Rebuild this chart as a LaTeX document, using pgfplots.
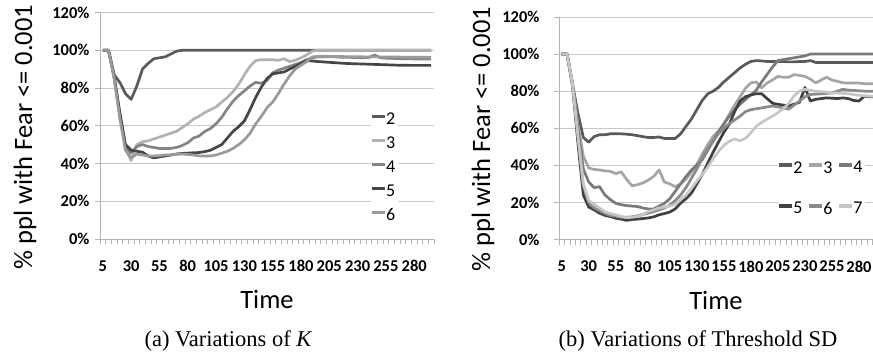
\documentclass[border=0pt]{standalone}
\usepackage{pgfplots}
\pgfplotsset{compat=1.18}
\usepackage{pgfplotstable}
\usepackage{fontspec}
\setmainfont{Carlito}
\newfontfamily\capfont{Liberation Serif}

\definecolor{axisgray}{HTML}{B4B4B4}
\definecolor{gridgray}{HTML}{C8C8C8}
\definecolor{la}{HTML}{5A5A5A}
\definecolor{lb}{HTML}{B2B2B2}
\definecolor{lc}{HTML}{848484}
\definecolor{ld}{HTML}{464646}
\definecolor{le}{HTML}{9A9A9A}
\definecolor{ra}{HTML}{595959}
\definecolor{rb}{HTML}{A5A5A5}
\definecolor{rc}{HTML}{7A7A7A}
\definecolor{rd}{HTML}{404040}
\definecolor{re}{HTML}{8A8A8A}
\definecolor{rf}{HTML}{C6C6C6}

\pgfplotstableread{
t    s2    s3    s4    s5    s6
5    100   100   100   100   100
10   100   100   100   100   100
15   87    86    86    86    85
20   83    65    66    67    64
25   77    48    49    50    47
30   74    41.5  45.5  47    43
35   81    50    49    46.5  45
40   90    51.5  50    46    44.5
45   93    52    49    44    44
50   95.5  53    48.5  43    44
55   96    54    48    43.5  44.2
60   96.5  55    48    44    44.5
65   98    56    48    44.5  44.5
70   99.5  57    48.5  45    45
75   100   59    49.5  45.3  45
80   100   61    51    45.5  44.8
85   100   63.5  53.5  45.7  44.5
90   100   65    54.5  45.8  44
95   100   67    57    46.3  44
100  100   68.5  58.5  47    44
105  100   70    61    48.5  44.5
110  100   72.5  64.5  50    45.5
115  100   75    69    53.5  46.5
120  100   78    73    57    48
125  100   82    76    59.5  50
130  100   87    78.5  62.5  52.5
135  100   91.5  81    68.5  56
140  100   94.5  83    75    61
145  100   95    82.5  80.5  65
150  100   95    84    85    69.5
155  100   95    88    87.5  72.5
160  100   94.7  89.5  88    77
165  100   95.5  90.5  88.5  82
170  100   94    91.5  90    86.5
175  100   94.7  92.5  91.5  90
180  100   96    93.5  93    92
185  100   97.5  95    94.5  94
190  100   99.5  96    94.3  96.5
195  100   100   96.5  94    96.8
200  100   100   96.5  93.8  96.8
205  100   100   96.5  93.6  96.7
210  100   100   96.5  93.4  96.7
215  100   100   96.3  93.2  96.7
220  100   100   96.3  93    96.6
225  100   100   96.2  92.9  96.6
230  100   100   96.2  92.8  96.6
235  100   100   96    92.7  96.5
240  100   100   96.2  92.6  96.5
245  100   100   97.5  92.5  96.5
250  100   100   96    92.4  96.5
255  100   100   95.8  92.3  96.4
260  100   100   95.7  92.2  96.4
265  100   100   95.6  92.1  96.4
270  100   100   95.5  92.1  96.3
275  100   100   95.5  92    96.3
280  100   100   95.4  92    96.3
285  100   100   95.4  92    96.3
290  100   100   95.3  92    96.3
295  100   100   95.3  92    96.3
}\leftdata

\pgfplotstableread{
t    s2    s3    s4    s5    s6    s7
5    100   100   100   100   100   100
10   100   100   100   100   100   100
15   84    84    84    83    83    84
20   68    62    60    52    55    56
25   55    45    38    24    29    30
30   52.5  38.5  31    17.5  20    21
35   55.5  37.8  28    16    17    19
40   56.5  37.5  28.5  14.2  15.5  17
45   56.5  37    24    13    14    15
50   57    36.8  21.5  12.4  13    14
55   57    35.5  19.5  11.5  12.5  13.3
60   57    36.5  18.8  11    12    12.5
65   56.8  32.5  18.3  10.3  12    11.8
70   56.5  29    18    10.8  12.2  12
75   56    29.5  17.8  11    12.8  12.4
80   55.5  30.5  17    11.3  13.5  13.5
85   55    32    16.5  11.6  14.2  15
90   55    34    16.5  12.2  15    16
95   55.3  37.5  18    13.3  16    17
100  54.5  31    19.5  14    17    17.5
105  54.5  30    22    14.8  18.5  18
110  54.5  28.5  26    16.5  21    19
115  57    30    30    19.6  24    21.5
120  61    32.5  34    22    28    24
125  65    36.5  37.5  25    33    27.5
130  70    40.5  40    30    38    31.5
135  75    46    43    35    44    35
140  78.5  51    48    41    49    39
145  80    55.5  53    47    53    43.5
150  82    58.5  58    52.5  57    47.5
155  85    62    62.5  57.8  60    50.7
160  87.5  67.5  66.5  62.2  62.5  53
165  90    72.5  70    69    64.5  54.2
170  92.5  77    73    74.7  66.5  53.3
175  94.5  81.5  75.5  77    69    54.5
180  96    84.5  78    78    70    57.5
185  96.5  85    80.5  78.6  70.5  61
190  96.3  81.8  85    78.6  71    63.2
195  96    84.4  89    76    71.5  64.9
200  96    86    93    73.5  72    66.5
205  96    88    96.5  72.9  71.5  68.4
210  96    87.5  97    72.5  71    70.5
215  95.8  87.5  97.5  72    70.3  73.5
220  95.8  88.9  98    73    72.5  77.5
225  96    88.5  98.5  74    74.7  80
230  96    88    99    82    77    81
235  96.5  86.5  100   74.7  78.2  80.5
240  95.5  84.4  100   75.6  78.4  80
245  95.5  86    100   76    78.6  79.7
250  95.5  87.5  100   76.4  78.8  79.5
255  95.5  86    100   76.2  79    79
260  95.5  85.3  100   76    80    79
265  95.5  84.5  100   76.4  81    78.8
270  95.5  84.4  100   76    80.6  78.6
275  95.5  84.4  100   75    80.4  78.2
280  95.5  84.4  100   74.7  80.2  77.8
285  95.5  84    100   77.3  80    77.5
290  95.5  84    100   77    80    77.3
295  95.5  84    100   77    80    77.3
}\rightdata

\pgfplotsset{
  excel/.style={
    scale only axis,
    anchor=south west,
    axis x line*=bottom,
    axis y line*=left,
    axis line style={draw=axisgray, line width=0.8pt, -},
    ymin=0, ymax=120,
    xmin=2.5,
    ymajorgrids,
    grid style={draw=gridgray, line width=0.8pt},
    ytick={0,20,40,60,80,100,120},
    yticklabels={0\%,20\%,40\%,60\%,80\%,100\%,120\%},
    xtick={5,30,55,80,105,130,155,180,205,230,255,280},
    xticklabels={5,30,55,80,105,130,155,180,205,230,255,280},
    minor xtick={2.5,7.5,...,297.5},
    tick align=outside,
    major tick length=5pt,
    minor tick length=5pt,
    major x tick style={draw=none},
    minor x tick style={draw=axisgray, line width=0.6pt},
    major y tick style={draw=axisgray, line width=0.8pt},
    tick label style={font=\fontsize{16.5}{19}\selectfont\bfseries},
    xticklabel style={anchor=north, yshift=-13pt},
    label style={font=\fontsize{26.5}{30}\selectfont},
    xlabel={Time},
    ylabel={\% ppl with Fear <= 0.001},
    legend cell align=left,
    every axis plot/.append style={line width=2.7pt, line join=round, mark=none},
  }
}

\begin{document}
\begin{tikzpicture}[x=1pt,y=1pt]
\useasboundingbox (0,0) rectangle (873,354);

\begin{axis}[excel,
  at={(100pt,115pt)}, width=334pt, height=226.5pt,
  xmax=297.5,
  yticklabel style={xshift=-2pt},
  xlabel style={at={(axis description cs:0.5,-0.269)}, anchor=center},
  ylabel style={at={(axis description cs:-0.2246,0.45)}, anchor=center, rotate=0},
  legend image code/.code={\fill[#1, draw=none] (0pt,1.3pt) rectangle (13pt,4.5pt);},
  legend style={at={(axis description cs:0.81,0.579)}, anchor=north west,
    draw=none, fill=white, font=\fontsize{18}{21}\selectfont,
    row sep=4pt, inner sep=1pt,
    nodes={inner sep=1.5pt, minimum height=20pt}},
]
\addplot[color=la] table[x=t, y=s2] {\leftdata};
\addlegendentry{2}
\addplot[color=lb] table[x=t, y=s3] {\leftdata};
\addlegendentry{3}
\addplot[color=lc] table[x=t, y=s4] {\leftdata};
\addlegendentry{4}
\addplot[color=ld] table[x=t, y=s5] {\leftdata};
\addlegendentry{5}
\addplot[color=le] table[x=t, y=s6] {\leftdata};
\addlegendentry{6}
\end{axis}

\begin{axis}[excel,
  at={(559pt,114.5pt)}, width=314pt, height=222.5pt,
  xmax=293,
  yticklabel style={xshift=-11pt},
  xlabel style={at={(axis description cs:0.5,-0.272)}, anchor=center},
  ylabel style={at={(axis description cs:-0.242,0.452)}, anchor=center, rotate=0},
  legend columns=3,
  legend image code/.code={\fill[#1, draw=none] (0pt,1.3pt) rectangle (13pt,4.5pt);},
  legend style={at={(axis description cs:0.696,0.372)}, anchor=north west,
    draw=none, fill=white, font=\fontsize{18}{21}\selectfont,
    row sep=21pt, inner sep=1pt,
    nodes={inner sep=1.5pt, minimum height=20pt},
    /tikz/every even column/.append style={column sep=5pt}},
]
\addplot[color=ra] table[x=t, y=s2] {\rightdata};
\addlegendentry{2}
\addplot[color=rb] table[x=t, y=s3] {\rightdata};
\addlegendentry{3}
\addplot[color=rc] table[x=t, y=s4] {\rightdata};
\addlegendentry{4}
\addplot[color=rd] table[x=t, y=s5] {\rightdata};
\addlegendentry{5}
\addplot[color=re] table[x=t, y=s6] {\rightdata};
\addlegendentry{6}
\addplot[color=rf] table[x=t, y=s7] {\rightdata};
\addlegendentry{7}
\end{axis}

\node[font=\capfont\fontsize{22.5}{26}\selectfont] at (228,13) {(a) Variations of {\itshape K}};
\node[font=\capfont\fontsize{22.5}{26}\selectfont] at (698,13) {(b) Variations of Threshold SD};
\end{tikzpicture}
\end{document}
